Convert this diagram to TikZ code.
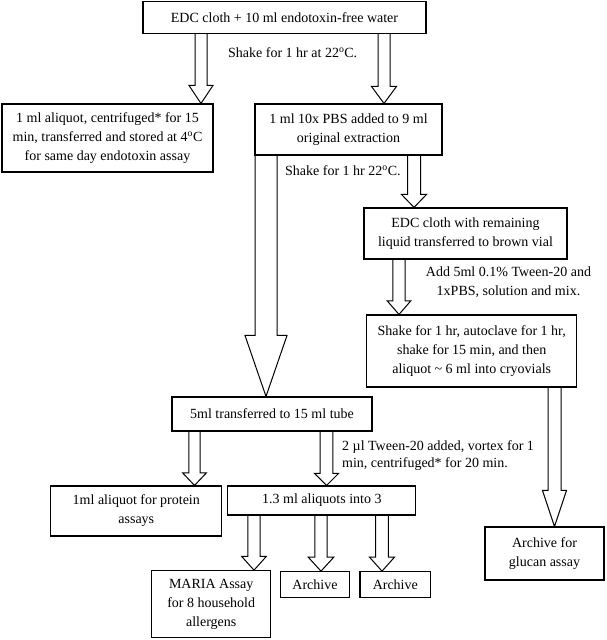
\documentclass[tikz,border=0pt]{standalone}
\usepackage{fontspec}
\setmainfont{Liberation Serif}
\usetikzlibrary{calc}
\newcommand{\fatarrow}[6]{%
  \path[fatline] let \p1=(#2.south), \p2=(#3.north) in
  (#1-#4,\y1) -- (#1-#4,\y2+#6pt) -- (#1-#5,\y2+#6pt) -- (#1,\y2)
  -- (#1+#5,\y2+#6pt) -- (#1+#4,\y2+#6pt) -- (#1+#4,\y1);}
\begin{document}
\begin{tikzpicture}[x=1pt,y=-1pt,
  box/.style={draw, line width=1.1pt, inner sep=0pt, align=center,
    font=\fontsize{14}{19}\selectfont},
  lbl/.style={inner sep=0pt, font=\fontsize{14}{19}\selectfont},
  fatline/.style={draw, line width=1pt, line join=miter}]
\useasboundingbox (0,0) rectangle (606,640);
% boxes
\node[box, minimum width=283pt, minimum height=32pt] (b1) at (284.5,17.5)
  {EDC cloth + 10 ml endotoxin-free water};
\node[box, minimum width=211pt, minimum height=68pt] (b2) at (107.5,138)
  {1 ml aliquot, centrifuged* for 15\\min, transferred and stored at 4\textsuperscript{o}C\\for same day endotoxin assay};
\node[box, minimum width=187pt, minimum height=51pt] (b3) at (348.5,129.5)
  {1 ml 10x PBS added to 9 ml\\original extraction};
\node[box, minimum width=203pt, minimum height=51pt] (b4) at (465.5,233.5)
  {EDC cloth with remaining\\liquid transferred to brown vial};
\node[box, minimum width=210pt, minimum height=72pt] (b5) at (471.7,351)
  {Shake for 1 hr, autoclave for 1 hr,\\shake for 15 min, and then\\aliquot \textasciitilde{} 6 ml into cryovials};
\node[box, minimum width=200pt, minimum height=34pt] (b6) at (272,414)
  {5ml transferred to 15 ml tube};
\node[box, minimum width=119pt, minimum height=53pt] (b7) at (544.5,553.5)
  {Archive for\\glucan assay};
\node[box, minimum width=171pt, minimum height=50pt] (b8) at (136.3,511)
  {1ml aliquot for protein\\assays};
\node[box, minimum width=188pt, minimum height=29pt] (b9) at (321.9,500.5)
  {1.3 ml aliquots into 3};
\node[box, minimum width=119pt, minimum height=66.6pt] (b10) at (211.2,604)
  {MARIA Assay\\for 8 household\\allergens};
\node[box, minimum width=68.6pt, minimum height=25.6pt] (b11) at (315,584.5)
  {Archive};
\node[box, minimum width=70.7pt, minimum height=25.6pt] (b12) at (395.3,584.5)
  {Archive};
% labels
\node[lbl, anchor=west] (l1) at (228,53) {Shake for 1 hr at 22\textsuperscript{o}C.};
\node[lbl, anchor=west] (l2) at (285,171) {Shake for 1 hr 22\textsuperscript{o}C.};
\node[lbl, align=center] (l3) at (508.5,282.5) {Add 5ml 0.1\% Tween-20 and\\1xPBS, solution and mix.};
\node[lbl, align=left, anchor=west, font=\fontsize{14}{17.5}\selectfont] (l4) at (342,455.5)
  {2 µl Tween-20 added, vortex for 1\\min, centrifuged* for 20 min.};
% fat arrows: x, from, to, shaft half width, head half width, head length
\fatarrow{201}{b1}{b2}{6}{12}{18}
\fatarrow{384}{b1}{b3}{6}{12.5}{17}
\fatarrow{266}{b3}{b6}{11}{21}{61}
\fatarrow{414}{b3}{b4}{6.5}{12.5}{13}
\fatarrow{399}{b4}{b5}{6.2}{11.7}{13.5}
\fatarrow{554.5}{b5}{b7}{6.5}{12}{36}
\fatarrow{194.5}{b6}{b8}{5.7}{12}{12.7}
\fatarrow{326.5}{b6}{b9}{6.3}{12}{12}
\fatarrow{254}{b9}{b10}{6.2}{12.3}{13.7}
\fatarrow{321}{b9}{b11}{6.2}{12.8}{14}
\fatarrow{382}{b9}{b12}{6.3}{12.5}{14}
\end{tikzpicture}
\end{document}
